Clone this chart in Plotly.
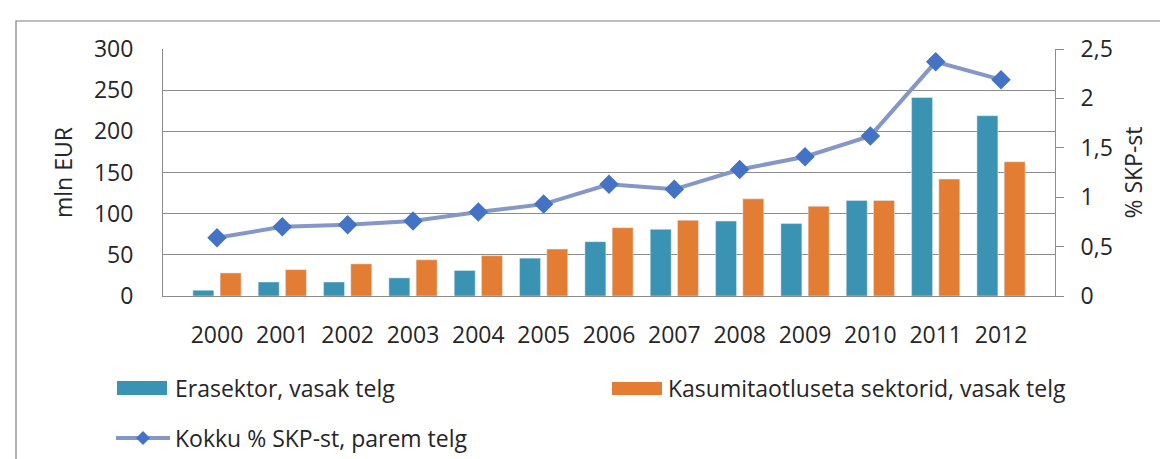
import plotly.graph_objects as go

years = ["2000", "2001", "2002", "2003", "2004", "2005", "2006",
         "2007", "2008", "2009", "2010", "2011", "2012"]
erasektor = [7, 17, 17, 22, 31, 46, 66, 81, 91, 88, 116, 241, 219]
kasumitaotluseta = [28, 32, 39, 44, 49, 57, 83, 92, 118, 109, 116, 142, 163]
kokku_pct = [0.59, 0.70, 0.72, 0.76, 0.85, 0.93, 1.13, 1.08, 1.28, 1.41, 1.62, 2.37, 2.19]

name_era = "Erasektor, vasak telg"
name_kas = "Kasumitaotluseta sektorid, vasak telg"
name_kok = "Kokku % SKP-st, parem telg"

BLUE = "#3a93b2"
ORANGE = "#e47d34"
LINE = "#8497c6"
MARKER = "#4472c4"
GRID = "#8c8c8c"
TEXT = "#262626"
FONT = "Open Sans"
FS = 23

W, H = 1168, 459
L, R, T, B = 155, 121, 41, 171
PW, PH = W - L - R, H - T - B


# pixel -> paper helpers (for legend / frame only)
def px(x):
    return (x - L) / PW


def py(y):
    return (H - B - y) / PH


fig = go.Figure()
fig.add_trace(go.Bar(x=years, y=erasektor, name=name_era, marker_color=BLUE, showlegend=False))
fig.add_trace(go.Bar(x=years, y=kasumitaotluseta, name=name_kas, marker_color=ORANGE, showlegend=False))
fig.add_trace(go.Scatter(x=years, y=kokku_pct, name=name_kok, yaxis="y2", mode="lines+markers",
                         line=dict(color=LINE, width=4),
                         marker=dict(symbol="diamond", size=15, color=MARKER),
                         showlegend=False))

shapes = []
# outer frame (top and left visible, rest cropped)
shapes.append(dict(type="rect", xref="paper", yref="paper", x0=px(8), x1=px(1175), y0=py(470), y1=py(13),
                   line=dict(color="#7f7f7f", width=1.2), layer="below"))
# legend swatches
shapes.append(dict(type="rect", xref="paper", yref="paper", x0=px(109), x1=px(159), y0=py(387), y1=py(373),
                   fillcolor=BLUE, line=dict(width=0)))
shapes.append(dict(type="rect", xref="paper", yref="paper", x0=px(604), x1=px(654), y0=py(387), y1=py(374),
                   fillcolor=ORANGE, line=dict(width=0)))
shapes.append(dict(type="line", xref="paper", yref="paper", x0=px(108), x1=px(162), y0=py(430), y1=py(430),
                   line=dict(color=LINE, width=4)))
dx, dy = 7, 7
cx, cy = 135, 430
path = "M {} {} L {} {} L {} {} L {} {} Z".format(
    px(cx - dx), py(cy), px(cx), py(cy - dy), px(cx + dx), py(cy), px(cx), py(cy + dy))
shapes.append(dict(type="path", xref="paper", yref="paper", path=path, fillcolor=MARKER, line=dict(width=0)))

annotations = []
for text, x, y in [(name_era, 165, 380), (name_kas, 658, 380), (name_kok, 165, 430)]:
    annotations.append(dict(text=text, xref="paper", yref="paper", x=px(x), y=py(y), xanchor="left",
                            yanchor="middle", showarrow=False, font=dict(family=FONT, size=FS, color=TEXT)))

fig.update_layout(
    width=W, height=H,
    margin=dict(l=L, r=R, t=T, b=B),
    paper_bgcolor="white", plot_bgcolor="white",
    barmode="group", bargap=0.166, bargroupgap=0.23,
    separators=", ",
    font=dict(family=FONT, size=FS, color=TEXT),
    showlegend=False,
    shapes=shapes,
    annotations=annotations,
    xaxis=dict(type="category", showgrid=False, showline=True, linecolor=GRID, linewidth=1,
               ticks="", ticklabelstandoff=18, tickfont=dict(size=FS)),
    yaxis=dict(range=[0, 300], dtick=50, showgrid=True, gridcolor=GRID, gridwidth=1,
               showline=True, linecolor=GRID, zeroline=False, ticks="", ticklabelstandoff=24,
               title=dict(text="mln EUR", standoff=14, font=dict(size=FS))),
    yaxis2=dict(range=[0, 2.5], dtick=0.5, overlaying="y", side="right", showgrid=False,
                showline=True, linecolor=GRID, ticks="outside", ticklen=8, tickcolor=GRID,
                zeroline=False, ticklabelstandoff=12,
                title=dict(text="% SKP-st", standoff=14, font=dict(size=FS))),
)

fig.write_html("out.html")
